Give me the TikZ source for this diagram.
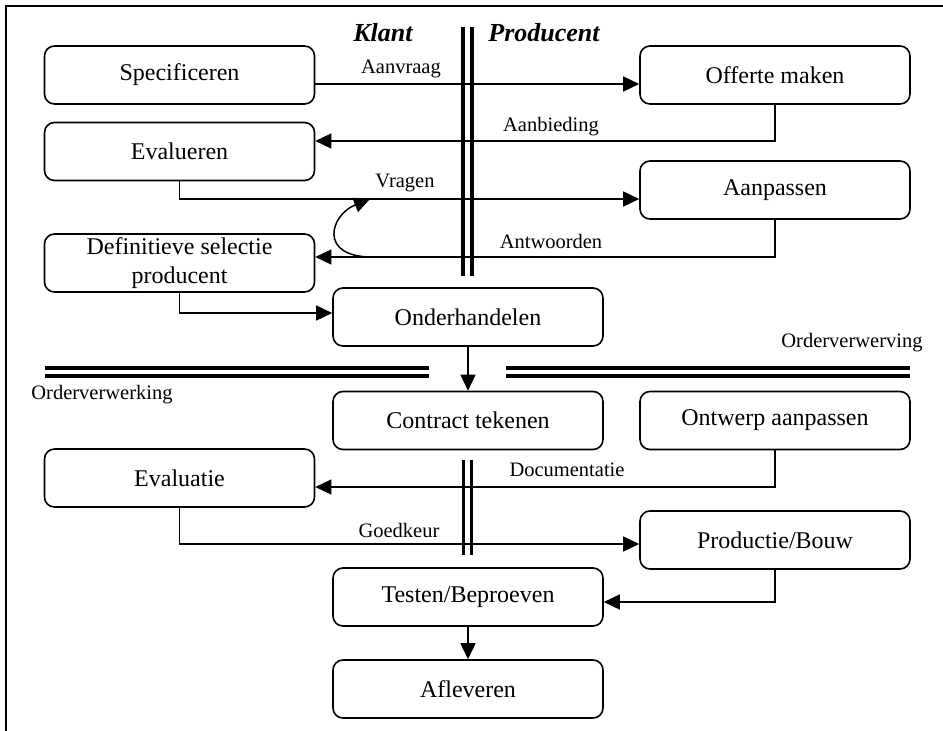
\documentclass[tikz,border=0pt]{standalone}
\usepackage{fontspec}
\setmainfont{Liberation Serif}
\usetikzlibrary{arrows.meta}
\begin{document}
\begin{tikzpicture}[x=1pt,y=-1pt,
  stepbox/.style={draw,line width=1.6pt,rounded corners=10pt,
    minimum width=270pt,minimum height=58pt,inner sep=2pt,
    font=\fontsize{24}{28.5}\selectfont,align=center},
  flow/.style={line width=1.5pt,-{Triangle[length=16pt,width=15pt]}},
  lbl/.style={font=\fontsize{20.5}{24}\selectfont,inner sep=0pt},
  side/.style={font=\fontsize{26}{30}\selectfont\bfseries\itshape,inner sep=0pt},
  divider/.style={line width=4pt}]
\useasboundingbox (0,0) rectangle (943,731);

% page frame
\draw[line width=1.3pt] (6,731) -- (6,6) -- (943,6);

% swimlane separators
\draw[divider] (463,27) -- (463,276);
\draw[divider] (472,27) -- (472,276);
\draw[divider,line width=3.5pt] (463.5,460) -- (463.5,555);
\draw[divider,line width=3.5pt] (471.5,460) -- (471.5,555);
\draw[divider] (45,367.5) -- (429,367.5);
\draw[divider] (45,376) -- (429,376);
\draw[divider] (506,367.5) -- (910,367.5);
\draw[divider] (506,376) -- (910,376);

% lane headings
\node[side] (klant) at (383,33) {Klant};
\node[side] (producent) at (544,33) {Producent};
\node[lbl] (verwerving) at (852,343) {Orderverwerving};
\node[lbl] (verwerking) at (102,395) {Orderverwerking};

% process steps
\node[stepbox] (spec) at (179.5,75) {Specificeren};
\node[stepbox] (eval) at (179.5,151.5) {Evalueren};
\node[stepbox] (defsel) at (179.5,263) {Definitieve selectie\\producent};
\node[stepbox] (offer) at (775,75) {Offerte maken};
\node[stepbox] (aanp) at (775,190) {Aanpassen};
\node[stepbox] (onder) at (468,317) {Onderhandelen};
\node[stepbox] (contract) at (468,420.5) {Contract tekenen};
\node[stepbox] (ontwerp) at (775,420.5) {Ontwerp aanpassen};
\node[stepbox] (evaluatie) at (179.5,478) {Evaluatie};
\node[stepbox] (prod) at (775,540) {Productie/Bouw};
\node[stepbox] (testen) at (468,597) {Testen/Beproeven};
\node[stepbox] (aflev) at (468,689) {Afleveren};

% connectors
\draw[flow] ([yshift=-9pt]spec.east) -- ([yshift=-9pt]offer.west);
\draw[flow] (offer.south) |- ([yshift=10.5pt]eval.east);
\draw[flow] (eval.south) |- ([yshift=-9pt]aanp.west);
\draw[flow] (aanp.south) |- ([yshift=6pt]defsel.east);
\draw[flow] (defsel.south) |- ([yshift=4pt]onder.west);
\draw[flow] (onder.south) -- (contract.north);
\draw[flow] (ontwerp.south) |- ([yshift=-9pt]evaluatie.east);
\draw[flow] (evaluatie.south) |- ([yshift=-4pt]prod.west);
\draw[flow] (prod.south) |- ([yshift=-5pt]testen.east);
\draw[flow] (testen.south) -- (aflev.north);

% feedback loop from answers back to questions
\coordinate (loopA) at (372,257);
\coordinate (loopB) at (370,199);
\draw[flow] (loopA) .. controls (318,257) and (330,215) .. (loopB);

% connector labels
\node[lbl] (l1) at (401,69) {Aanvraag};
\node[lbl] (l2) at (551,127) {Aanbieding};
\node[lbl] (l3) at (405,183) {Vragen};
\node[lbl] (l4) at (551,241) {Antwoorden};
\node[lbl] (l5) at (567,470) {Documentatie};
\node[lbl] (l6) at (399,530) {Goedkeur};
\end{tikzpicture}
\end{document}
